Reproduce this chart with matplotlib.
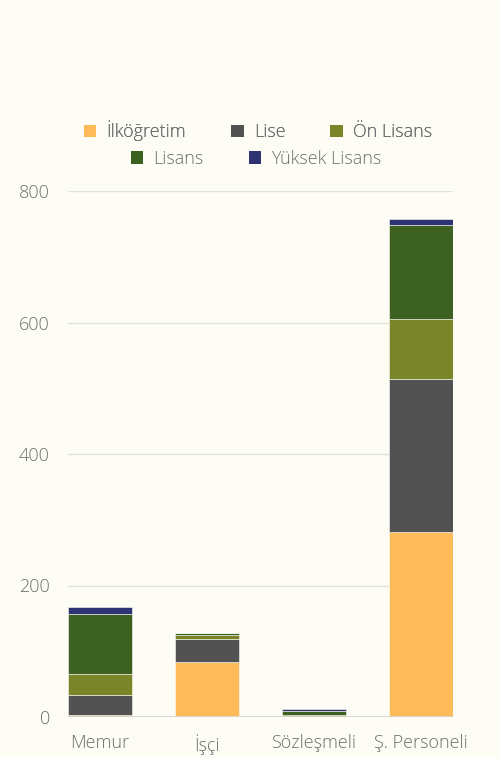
import matplotlib.pyplot as plt
from matplotlib.patches import Patch

plt.rcParams['font.family'] = ['Open Sans', 'DejaVu Sans']
plt.rcParams['font.weight'] = 'light'

categories = ['Memur', 'İşçi', 'Sözleşmeli', 'Ş. Personeli']
series_names = ['İlköğretim', 'Lise', 'Ön Lisans', 'Lisans', 'Yüksek Lisans']
ilkogretim = [3, 84, 0, 281]
lise = [30, 34, 0, 233]
on_lisans = [32, 6, 3, 91]
lisans = [91, 3, 6, 144]
yuksek_lisans = [11, 0, 3, 9]
colors = ['#FDBA58', '#525252', '#7A8428', '#3D6121', '#2E3270']

BG = '#FDFDF5'
TXT = '#6E6E6E'

fig = plt.figure(figsize=(5.02, 7.58), dpi=100, facecolor=BG)
ax = fig.add_axes([68 / 502, 1 - 717 / 758, 385 / 502, 526 / 758], facecolor=BG)

x = range(len(categories))
bottom = [0] * len(categories)
for name, vals, col in zip(series_names,
                           [ilkogretim, lise, on_lisans, lisans, yuksek_lisans],
                           colors):
    ax.bar(x, vals, width=0.6, bottom=bottom, color=col, label=name,
           edgecolor=BG, linewidth=0.4, zorder=3)
    bottom = [b + v for b, v in zip(bottom, vals)]

ax.set_xlim(-0.3, 3.3)
ax.set_ylim(0, 800)
ax.set_yticks([0, 200, 400, 600, 800])
ax.set_xticks(list(x))
ax.set_xticklabels(categories)
ax.grid(axis='y', color='#E3E3DD', linewidth=1, zorder=0)
ax.axhline(0, color='#D6D6D0', linewidth=2, zorder=4)
for s in ax.spines.values():
    s.set_visible(False)
ax.tick_params(length=0, colors=TXT, labelsize=13)
ax.tick_params(axis='x', pad=12)
ax.tick_params(axis='y', pad=13)

handles = [Patch(facecolor=c, edgecolor='none') for c in colors]
kw = dict(loc='center', frameon=False, fontsize=13, handlelength=0.7,
          handleheight=0.7, handletextpad=0.55, columnspacing=2.5, labelcolor=TXT)
leg1 = fig.legend(handles[:3], series_names[:3], ncol=3,
                  bbox_to_anchor=(258 / 502, 1 - 131 / 758), **kw)
leg2 = fig.legend(handles[3:], series_names[3:], ncol=2,
                  bbox_to_anchor=(256 / 502, 1 - 159 / 758), **kw)
fig.add_artist(leg1)

fig.savefig('out.png', dpi=100, facecolor=BG)
